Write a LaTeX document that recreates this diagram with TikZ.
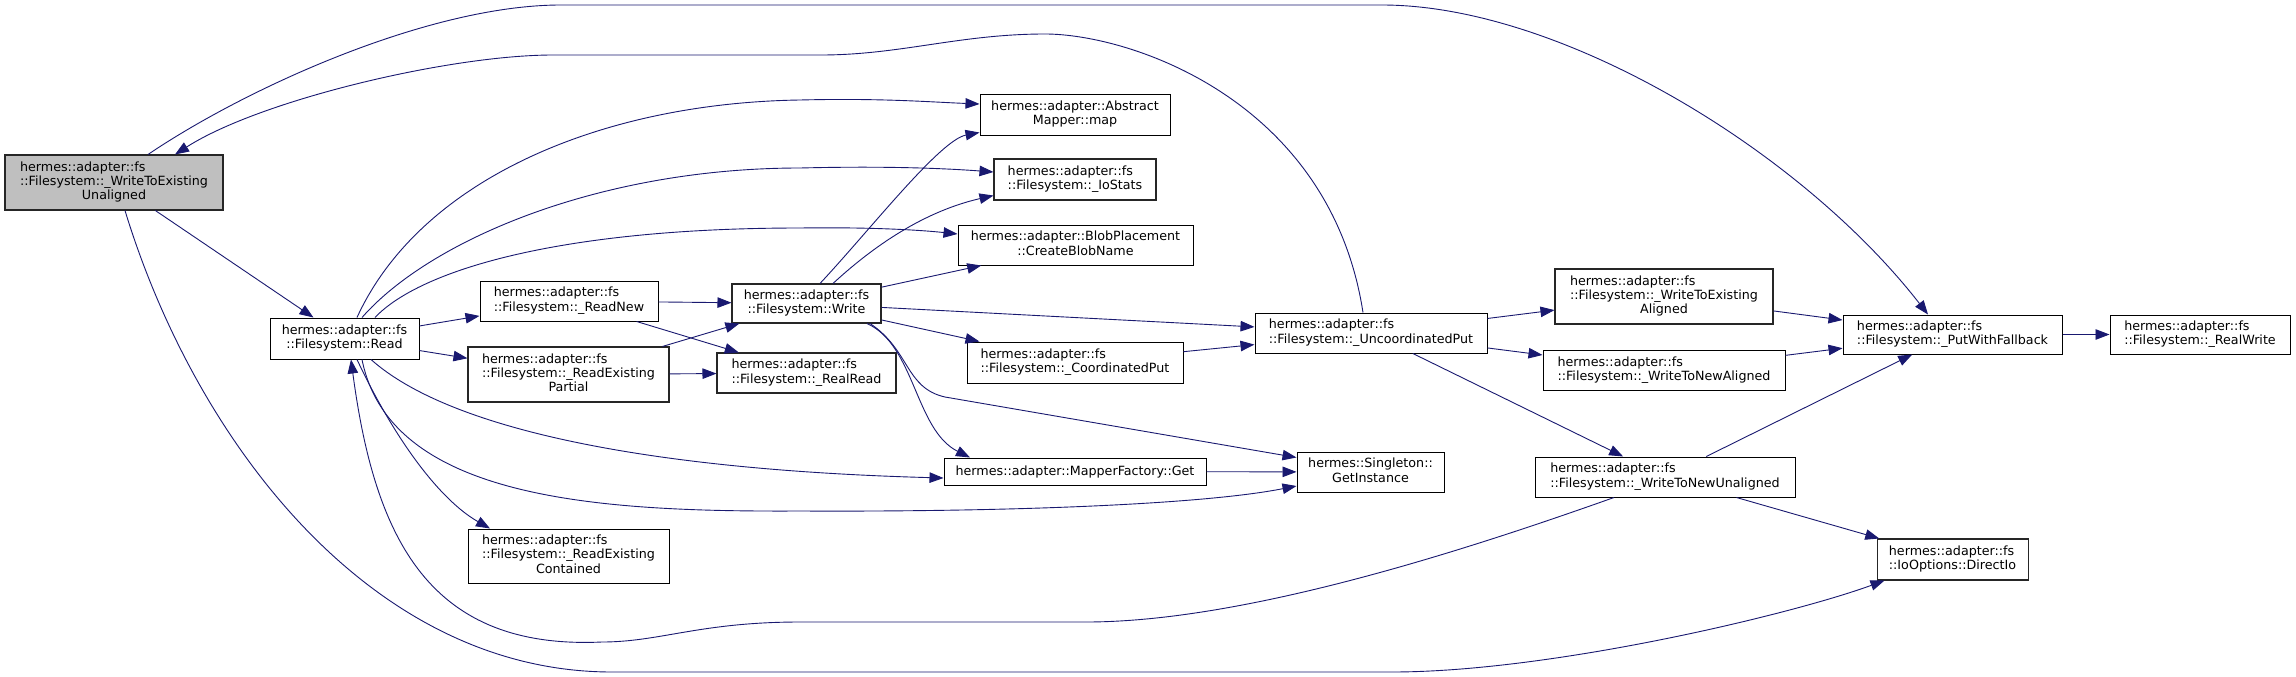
\documentclass[tikz,border=0pt]{standalone}
\usepackage{fontspec}
\setmainfont{DejaVu Sans}
\usetikzlibrary{arrows.meta}
\definecolor{edgeblue}{HTML}{191970}
\definecolor{boxgrey}{HTML}{262626}
\definecolor{selgrey}{HTML}{BFBFBF}
% doxygen style labels: left lines, last line centred
\newcommand{\lbltwo}[2]{\begin{tabular}{@{}l@{}}#1\\\multicolumn{1}{@{}c@{}}{#2}\end{tabular}}
\newcommand{\lblthree}[3]{\begin{tabular}{@{}l@{}}#1\\#2\\\multicolumn{1}{@{}c@{}}{#3}\end{tabular}}

\begin{document}
\begin{tikzpicture}[x=1pt, y=-1pt,
    fnbox/.style={draw=black, fill=white, line width=1pt, inner sep=0pt,
      font=\fontsize{12.7}{14.3}\selectfont},
    fnboxgrey/.style={fnbox, draw=boxgrey, line width=1.05pt},
    calledge/.style={draw=edgeblue, line width=0.9pt,
      -{Triangle[length=14pt,width=10.5pt]}}]
  % canvas 2296 x 677 px, y grows downwards
  \fill[white] (0,0) rectangle (2296,677);
  \useasboundingbox (0,0) rectangle (2296,677);

  % functions
  \node[fnboxgrey, fill=selgrey, minimum width=218pt, minimum height=55pt] (wteu) at (114,182.5)
    {\lblthree{hermes::adapter::fs}{::Filesystem::\_WriteToExisting}{Unaligned}};
  \node[fnbox, minimum width=149pt, minimum height=41pt] (read) at (344.5,338.5)
    {\lbltwo{hermes::adapter::fs}{::Filesystem::Read}};
  \node[fnbox, minimum width=178pt, minimum height=40pt] (readnew) at (569,301)
    {\lbltwo{hermes::adapter::fs}{::Filesystem::\_ReadNew}};
  \node[fnboxgrey, minimum width=201pt, minimum height=55pt] (rep) at (568.5,374.5)
    {\lblthree{hermes::adapter::fs}{::Filesystem::\_ReadExisting}{Partial}};
  \node[fnbox, minimum width=201pt, minimum height=54pt] (rec) at (568.5,556)
    {\lblthree{hermes::adapter::fs}{::Filesystem::\_ReadExisting}{Contained}};
  \node[fnboxgrey, minimum width=149pt, minimum height=39pt] (write) at (806.5,303.5)
    {\lbltwo{hermes::adapter::fs}{::Filesystem::Write}};
  \node[fnboxgrey, minimum width=179pt, minimum height=40pt] (realread) at (806.5,373)
    {\lbltwo{hermes::adapter::fs}{::Filesystem::\_RealRead}};
  \node[fnbox, minimum width=190pt, minimum height=41pt] (map) at (1075,114.5)
    {\lbltwo{hermes::adapter::Abstract}{Mapper::map}};
  \node[fnboxgrey, minimum width=162pt, minimum height=41pt] (iostats) at (1075,179.5)
    {\lbltwo{hermes::adapter::fs}{::Filesystem::\_IoStats}};
  \node[fnbox, minimum width=235pt, minimum height=40pt] (blobname) at (1075.5,245)
    {\lbltwo{hermes::adapter::BlobPlacement}{::CreateBlobName}};
  \node[fnbox, minimum width=216pt, minimum height=41pt] (coordput) at (1075,362.5)
    {\lbltwo{hermes::adapter::fs}{::Filesystem::\_CoordinatedPut}};
  \node[fnbox, minimum width=262pt, minimum height=27pt] (mfget) at (1075,471.5)
    {hermes::adapter::MapperFactory::Get};
  \node[fnbox, minimum width=147pt, minimum height=40pt] (singleton) at (1370.5,472)
    {\lbltwo{hermes::Singleton::}{GetInstance}};
  \node[fnbox, minimum width=232pt, minimum height=40pt] (uncoordput) at (1371,333)
    {\lbltwo{hermes::adapter::fs}{::Filesystem::\_UncoordinatedPut}};
  \node[fnboxgrey, minimum width=218pt, minimum height=55pt] (wtea) at (1664,296.5)
    {\lblthree{hermes::adapter::fs}{::Filesystem::\_WriteToExisting}{Aligned}};
  \node[fnbox, minimum width=242pt, minimum height=40pt] (wtna) at (1664,370.5)
    {\lbltwo{hermes::adapter::fs}{::Filesystem::\_WriteToNewAligned}};
  \node[fnbox, minimum width=260pt, minimum height=40pt] (wtnu) at (1665,477)
    {\lbltwo{hermes::adapter::fs}{::Filesystem::\_WriteToNewUnaligned}};
  \node[fnbox, minimum width=219pt, minimum height=39pt] (putwf) at (1952.5,334.5)
    {\lbltwo{hermes::adapter::fs}{::Filesystem::\_PutWithFallback}};
  \node[fnbox, minimum width=180pt, minimum height=39pt] (realwrite) at (2200,334.5)
    {\lbltwo{hermes::adapter::fs}{::Filesystem::\_RealWrite}};
  \node[fnboxgrey, minimum width=151pt, minimum height=41pt] (directio) at (1952.5,559.5)
    {\lbltwo{hermes::adapter::fs}{::IoOptions::DirectIo}};

  % straight calls
  \draw[calledge] (wteu) -- (read);
  \draw[calledge] (read) -- (readnew);
  \draw[calledge] (read) -- (rep);
  \draw[calledge] (readnew) -- (write);
  \draw[calledge] (readnew) -- (realread);
  \draw[calledge] (rep) -- (write);
  \draw[calledge] (rep) -- (realread);
  \draw[calledge] (write) -- (blobname);
  \draw[calledge] (write) -- (uncoordput);
  \draw[calledge] (write) -- (coordput);
  \draw[calledge] (coordput) -- (uncoordput);
  \draw[calledge] (mfget) -- (singleton);
  \draw[calledge] (uncoordput) -- (wtea);
  \draw[calledge] (uncoordput) -- (wtna);
  \draw[calledge] (uncoordput) -- (wtnu);
  \draw[calledge] (wtea) -- (putwf);
  \draw[calledge] (wtna) -- (putwf);
  \draw[calledge] (wtnu) -- (putwf);
  \draw[calledge] (wtnu) -- (directio);
  \draw[calledge] (putwf) -- (realwrite);

  % long curved calls
  \draw[calledge] ([xshift=34pt]wteu.north) .. controls (248,87) and (430,5) .. (561,5)
    -- (1382,5) .. controls (1560,5) and (1800,150) .. ([xshift=-24.5pt]putwf.north);
  \draw[calledge] ([xshift=-8pt]uncoordput.north) .. controls (1330,100) and (1130,34) .. (1045,34)
    .. controls (960,34) and (900,55) .. (821,55) -- (553,55)
    .. controls (450,55) and (260,100) .. ([xshift=61pt]wteu.north);
  \draw[calledge] ([xshift=11pt]wteu.south) .. controls (195,440) and (370,672) .. (612,672)
    -- (1392,672) .. controls (1550,672) and (1790,615) .. ([xshift=8pt]directio.south west);
  \draw[calledge] ([xshift=-51pt]wtnu.south) .. controls (1480,545) and (1250,622) .. (1086,622)
    -- (800,622) .. controls (700,622) and (660,642) .. (602,642)
    .. controls (430,650) and (375,540) .. ([xshift=6.5pt]read.south);

  % calls out of Read
  \draw[calledge] ([xshift=12.5pt]read.south) .. controls (395,440) and (440,500) .. ([xshift=-78.5pt]rec.north);
  \draw[calledge] ([xshift=12.5pt]read.north) .. controls (420,180) and (600,103) .. (800,100)
    .. controls (880,98) and (930,102) .. ([yshift=10.5pt]map.west);
  \draw[calledge] ([xshift=17.5pt]read.north) .. controls (430,240) and (600,168) .. (800,168)
    .. controls (880,166) and (940,168) .. ([yshift=7.5pt]iostats.west);
  \draw[calledge] ([xshift=30.5pt]read.north) .. controls (420,270) and (560,228) .. (800,228)
    .. controls (870,227) and (920,230) .. ([yshift=11pt]blobname.west);
  \draw[calledge] ([xshift=26.5pt]read.south) .. controls (450,430) and (650,470) .. ([yshift=-6.5pt]mfget.west);
  \draw[calledge] ([xshift=17.5pt]read.south) .. controls (390,500) and (600,512) .. (800,511)
    .. controls (1000,512) and (1200,505) .. ([yshift=-14pt]singleton.west);

  % calls out of Write
  \draw[calledge] ([xshift=13.5pt]write.north) .. controls (870,230) and (940,140) .. ([yshift=3pt]map.south west);
  \draw[calledge] ([xshift=26.5pt]write.north) .. controls (880,240) and (930,210) .. ([yshift=5pt]iostats.south west);
  \draw[calledge] ([xshift=60.5pt]write.south) .. controls (915,345) and (915,430) .. ([xshift=-105pt]mfget.north);
  \draw[calledge] ([xshift=63.5pt]write.south) .. controls (910,350) and (905,388) .. (945,397)
    -- ([yshift=-6pt]singleton.north west);
\end{tikzpicture}
\end{document}
